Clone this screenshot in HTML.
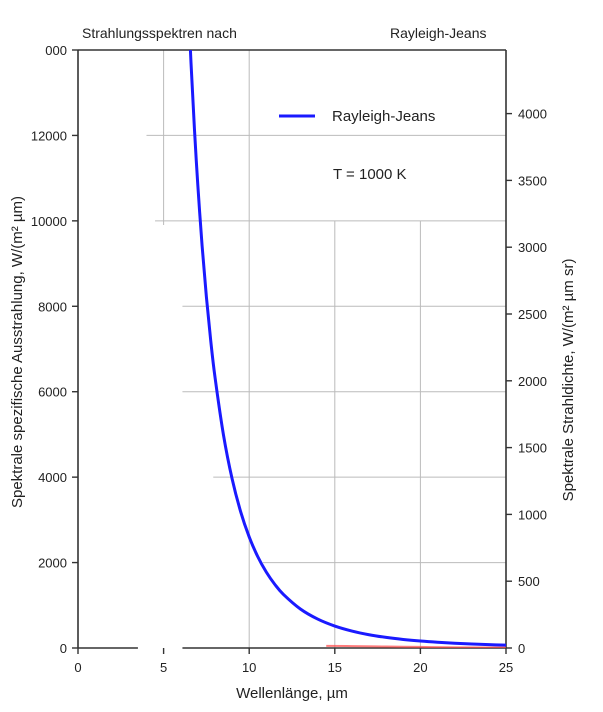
<!DOCTYPE html>
<html><head><meta charset="utf-8">
<style>
html,body{margin:0;padding:0;background:#fff;}
svg{display:block;font-family:"Liberation Sans",Arial,sans-serif;}
</style></head>
<body>
<svg id="chart" width="603" height="712" viewBox="0 0 603 712" xmlns="http://www.w3.org/2000/svg">
  <rect width="603" height="712" fill="#fff"/>
  <text x="82" y="38" font-size="14" fill="#222">Strahlungsspektren nach</text>
  <text x="390" y="38" font-size="14" fill="#222">Rayleigh-Jeans</text>
  <g id="grid"></g>
  <g id="axes"></g>
  <g id="series"></g>
  <g>
    <line x1="279" y1="116" x2="315" y2="116" stroke="#1a1aff" stroke-width="3"/>
    <text x="332" y="121" font-size="15" fill="#222">Rayleigh-Jeans</text>
  </g>
  <text x="333" y="179" font-size="15" fill="#222">T = 1000 K</text>
  <text x="292" y="698" font-size="15" fill="#222" text-anchor="middle">Wellenlänge, µm</text>
  <text transform="translate(22,352) rotate(-90)" font-size="15" fill="#222" text-anchor="middle">Spektrale spezifische Ausstrahlung, W/(m² µm)</text>
  <text transform="translate(573,380) rotate(-90)" font-size="15" fill="#222" text-anchor="middle">Spektrale Strahldichte, W/(m² µm sr)</text>
</svg>
<script>
const xTicks = [0, 5, 10, 15, 20, 25];
const yTicksLeft = [0, 2000, 4000, 6000, 8000, 10000, 12000, 14000];
const yTicksRight = [0, 500, 1000, 1500, 2000, 2500, 3000, 3500, 4000];
const rjLambda = [6.4, 6.6, 6.8, 7.0, 7.25, 7.5, 7.75, 8, 8.5, 9, 9.5, 10, 10.5, 11, 11.5, 12, 13, 14, 15, 16, 17, 18, 19, 20, 21, 22, 23, 24, 25];
const rjValues = [15494, 13705, 12161, 10829, 9410, 8217, 7206, 6348, 4981, 3963, 3192, 2600, 2139, 1776, 1487, 1254, 910, 677, 514, 397, 311, 248, 200, 163, 134, 111, 93, 78, 67];
const planckLambda = [14.5, 16, 18, 20, 22, 25];
const planckValues = [50, 45, 35, 25, 15, 10];

const NS = "http://www.w3.org/2000/svg";
const X0 = 78, X1 = 506, Y0 = 648, Y1 = 50;
function xs(v){ return X0 + (v - 0) / 25 * (X1 - X0); }
function ys(v){ return Y0 - v / 14000 * (Y0 - Y1); }
function yr(v){ return Y0 - v / 1000 * 133.6; }
function mk(tag, attrs, parent){
  const e = document.createElementNS(NS, tag);
  for (const k in attrs) e.setAttribute(k, attrs[k]);
  parent.appendChild(e);
  return e;
}
function smoothPath(pts){
  let d = 'M' + pts[0][0] + ',' + pts[0][1];
  for (let i = 0; i < pts.length - 1; i++) {
    const p0 = pts[i - 1] || pts[i], p1 = pts[i], p2 = pts[i + 1], p3 = pts[i + 2] || p2;
    const c1x = p1[0] + (p2[0] - p0[0]) / 6, c1y = p1[1] + (p2[1] - p0[1]) / 6;
    const c2x = p2[0] - (p3[0] - p1[0]) / 6, c2y = p2[1] - (p3[1] - p1[1]) / 6;
    d += ' C' + c1x + ',' + c1y + ' ' + c2x + ',' + c2y + ' ' + p2[0] + ',' + p2[1];
  }
  return d;
}
const grid = document.getElementById('grid');
const axes = document.getElementById('axes');
const series = document.getElementById('series');
const gc = "#bbb";
const hStart = {2000: 10.8, 4000: 7.9, 6000: 6.1, 8000: 6.1, 10000: 4.5, 12000: 4.0};
yTicksLeft.forEach(v => {
  if (v === 0 || v === 14000) return;
  const y = ys(v);
  const l = mk('line', {x1: xs(hStart[v]), y1: y, x2: X1, y2: y, stroke: gc, 'stroke-width': 1}, grid);
  
  
});
xTicks.forEach(v => {
  if (v === 0 || v === 25) return;
  let yTop = Y1, yBot = Y0;
  if (v === 5) { yBot = 225; }
  if (v === 15 || v === 20) { yTop = ys(10000); }
  const l = mk('line', {x1: xs(v), y1: yTop, x2: xs(v), y2: yBot, stroke: gc, 'stroke-width': 1}, grid);
  
  
});
const ac = "#333";
[[X0, Y1, X0, Y0, 'y-axis-left'], [X1, Y1, X1, Y0, 'y-axis-right'], [X0, Y1, X1, Y1, 'top-border'], [X0, Y0, xs(3.5), Y0, 'x-axis-a'], [xs(6.1), Y0, X1, Y0, 'x-axis-b']].forEach(a => {
  const l = mk('line', {x1: a[0], y1: a[1], x2: a[2], y2: a[3], stroke: ac, 'stroke-width': 1.6}, axes);
  
  
});
xTicks.forEach(v => {
  const t = mk('line', {x1: xs(v), y1: Y0, x2: xs(v), y2: Y0 + 6, stroke: ac, 'stroke-width': 1.4}, axes);
  
  
  const tx = mk('text', {x: xs(v), y: Y0 + 24, 'font-size': 13, fill: '#222', 'text-anchor': 'middle'}, axes);
  tx.textContent = v;
  
  
});
yTicksLeft.forEach(v => {
  const y = ys(v);
  const t = mk('line', {x1: X0 - 6, y1: y, x2: X0, y2: y, stroke: ac, 'stroke-width': 1.4}, axes);
  
  
  const tx = mk('text', {x: X0 - 11, y: y + 5, 'font-size': 13, fill: '#222', 'text-anchor': 'end'}, axes);
  tx.textContent = v === 14000 ? '000' : v;
  
  
});
yTicksRight.forEach(v => {
  const y = yr(v);
  const t = mk('line', {x1: X1, y1: y, x2: X1 + 6, y2: y, stroke: ac, 'stroke-width': 1.4}, axes);
  
  
  const tx = mk('text', {x: X1 + 12, y: y + 5, 'font-size': 13, fill: '#222'}, axes);
  tx.textContent = v;
  
  
});
const defs = mk('defs', {}, series);
const cp = mk('clipPath', {id: 'plotclip'}, defs);
mk('rect', {x: X0, y: Y1, width: X1 - X0, height: Y0 - Y1}, cp);
const pp = mk('path', {d: smoothPath(planckLambda.map((l, i) => [xs(l), ys(planckValues[i])])), fill: 'none', stroke: '#f44', 'stroke-width': 2, opacity: 0.7, 'clip-path': 'url(#plotclip)'}, series);


const rj = mk('path', {d: smoothPath(rjLambda.map((l, i) => [xs(l), ys(rjValues[i])])), fill: 'none', stroke: '#1a1aff', 'stroke-width': 3, 'stroke-linejoin': 'round', 'clip-path': 'url(#plotclip)'}, series);


</script>
</body></html>
